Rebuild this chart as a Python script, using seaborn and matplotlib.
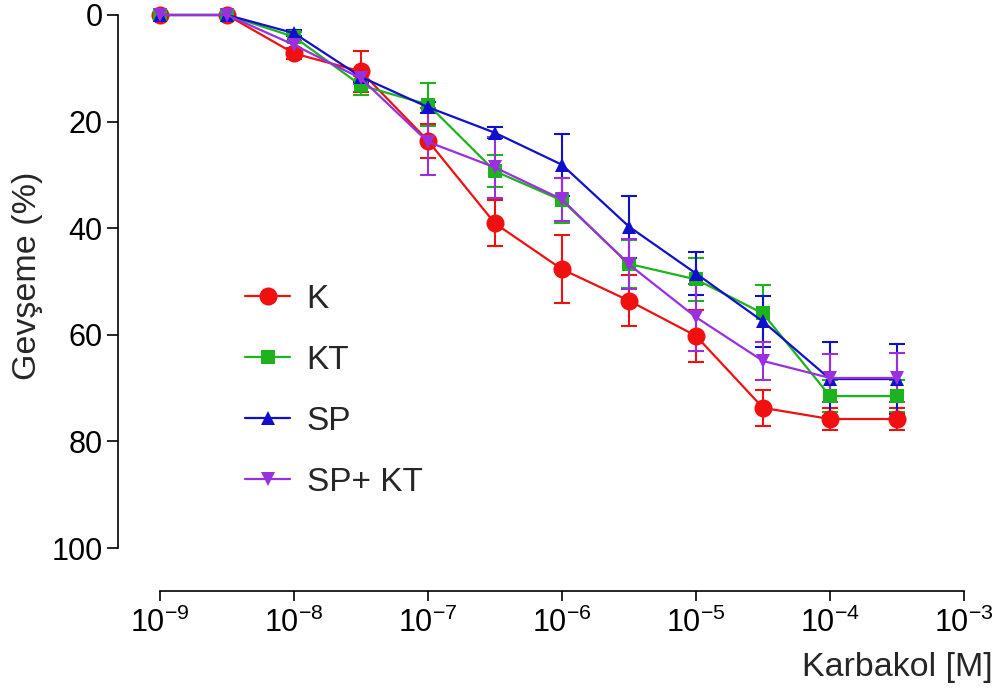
import matplotlib
matplotlib.use("Agg")
import matplotlib.pyplot as plt
import numpy as np
import pandas as pd
import seaborn as sns
from matplotlib.ticker import FixedLocator, LogFormatterSciNotation, NullLocator

# Carbachol concentrations (M), half-log steps
concentration = [1e-9, 3.16e-9, 1e-8, 3.16e-8, 1e-7, 3.16e-7,
                 1e-6, 3.16e-6, 1e-5, 3.16e-5, 1e-4, 3.16e-4]

groups = ["K", "KT", "SP", "SP+ KT"]

# Mean relaxation (%) per group
k_mean = [0, 0, 7.2, 10.6, 23.6, 39.1, 47.7, 53.6, 60.2, 73.7, 75.8, 75.8]
kt_mean = [0, 0, 4.1, 13.2, 16.8, 29.3, 34.8, 46.7, 49.6, 56.0, 71.5, 71.5]
sp_mean = [0, 0, 3.4, 11.6, 17.3, 22.1, 28.1, 39.7, 48.5, 57.5, 68.3, 68.3]
spkt_mean = [0, 0, 5.6, 11.9, 23.8, 28.6, 34.6, 46.8, 56.7, 64.9, 68.1, 68.1]

# Standard error of the mean per group
k_sem = [0, 0, 1.0, 3.8, 3.2, 4.3, 6.4, 4.8, 4.9, 3.4, 2.0, 2.0]
kt_sem = [0, 0, 1.0, 1.8, 4.0, 3.0, 4.3, 4.5, 4.0, 5.4, 3.0, 3.0]
sp_sem = [0, 0, 0.6, 1.0, 1.0, 1.0, 5.8, 5.8, 4.1, 4.8, 6.9, 6.5]
spkt_sem = [0, 0, 0.8, 1.0, 6.3, 5.8, 4.0, 4.7, 6.3, 3.6, 4.5, 4.6]

x_ticks = [1e-9, 1e-8, 1e-7, 1e-6, 1e-5, 1e-4, 1e-3]
y_ticks = [0, 20, 40, 60, 80, 100]

means = {"K": k_mean, "KT": kt_mean, "SP": sp_mean, "SP+ KT": spkt_mean}
sems = {"K": k_sem, "KT": kt_sem, "SP": sp_sem, "SP+ KT": spkt_sem}

df = pd.concat(
    [pd.DataFrame({"Karbakol": concentration, "Gevseme": means[g],
                   "sem": sems[g], "grup": g}) for g in groups],
    ignore_index=True,
)

colors = {"K": "#F01010", "KT": "#1DB31D", "SP": "#1010CC", "SP+ KT": "#9A2FE0"}
markers = {"K": "o", "KT": "s", "SP": "^", "SP+ KT": "v"}
msizes = {"K": 13, "KT": 9.5, "SP": 10.5, "SP+ KT": 10.5}

sns.set_style("ticks")
plt.rcParams["font.family"] = ["Liberation Sans", "DejaVu Sans"]
plt.rcParams["mathtext.fontset"] = "custom"
plt.rcParams["mathtext.rm"] = "Liberation Sans"
plt.rcParams["mathtext.it"] = "Liberation Sans"

TICK_FS = 22
LABEL_FS = 24.5
LEGEND_FS = 24

fig = plt.figure(figsize=(9.98, 6.97), dpi=100)
ax = fig.add_axes([160 / 998, 1 - 548 / 697, 804 / 998, 533 / 697])

for g in groups:
    sub = df[df["grup"] == g]
    has_err = sub[sub["sem"] > 0]
    ax.errorbar(has_err["Karbakol"], has_err["Gevseme"], yerr=has_err["sem"],
                fmt="none", ecolor=colors[g], elinewidth=1.5, capsize=5.5,
                capthick=1.5, clip_on=False, zorder=2)

for g in groups:
    sub = df[df["grup"] == g]
    sns.lineplot(data=sub, x="Karbakol", y="Gevseme", ax=ax, color=colors[g],
                 marker=markers[g], markersize=msizes[g], markeredgewidth=0,
                 linewidth=1.6, label=g, clip_on=False, zorder=3,
                 estimator=None, sort=False)

ax.set_xscale("log")
ax.set_xlim(1e-9, 1e-3)
ax.set_ylim(100, 0)

ax.xaxis.set_major_locator(FixedLocator(x_ticks))
ax.xaxis.set_major_formatter(LogFormatterSciNotation())
ax.xaxis.set_minor_locator(NullLocator())
ax.yaxis.set_major_locator(FixedLocator(y_ticks))

for side in ("top", "right"):
    ax.spines[side].set_visible(False)
ax.spines["left"].set_position(("outward", 30.2))
ax.spines["bottom"].set_position(("outward", 31.0))
for side in ("left", "bottom"):
    ax.spines[side].set_linewidth(1.2)
    ax.spines[side].set_color("black")

ax.tick_params(axis="y", direction="out", length=8, width=1.2,
               labelsize=TICK_FS, pad=3, colors="black")
ax.tick_params(axis="x", direction="out", length=7, width=1.2,
               labelsize=TICK_FS, pad=5, colors="black")

ax.set_xlabel("")
ax.set_ylabel("Gevşeme (%)", fontsize=LABEL_FS)
ax.yaxis.set_label_coords(-0.145, 0.51)

fig.text(993 / 998, 1 - 676 / 697, "Karbakol [M]", fontsize=LABEL_FS,
         ha="right", va="baseline")

leg = ax.legend(loc="upper left", bbox_to_anchor=(245 / 998, 1 - 284 / 697),
                bbox_transform=fig.transFigure, frameon=False,
                fontsize=LEGEND_FS, handlelength=1.35, handletextpad=0.5,
                labelspacing=0.9, borderpad=0, borderaxespad=0)

fig.savefig("out.png", dpi=100)
